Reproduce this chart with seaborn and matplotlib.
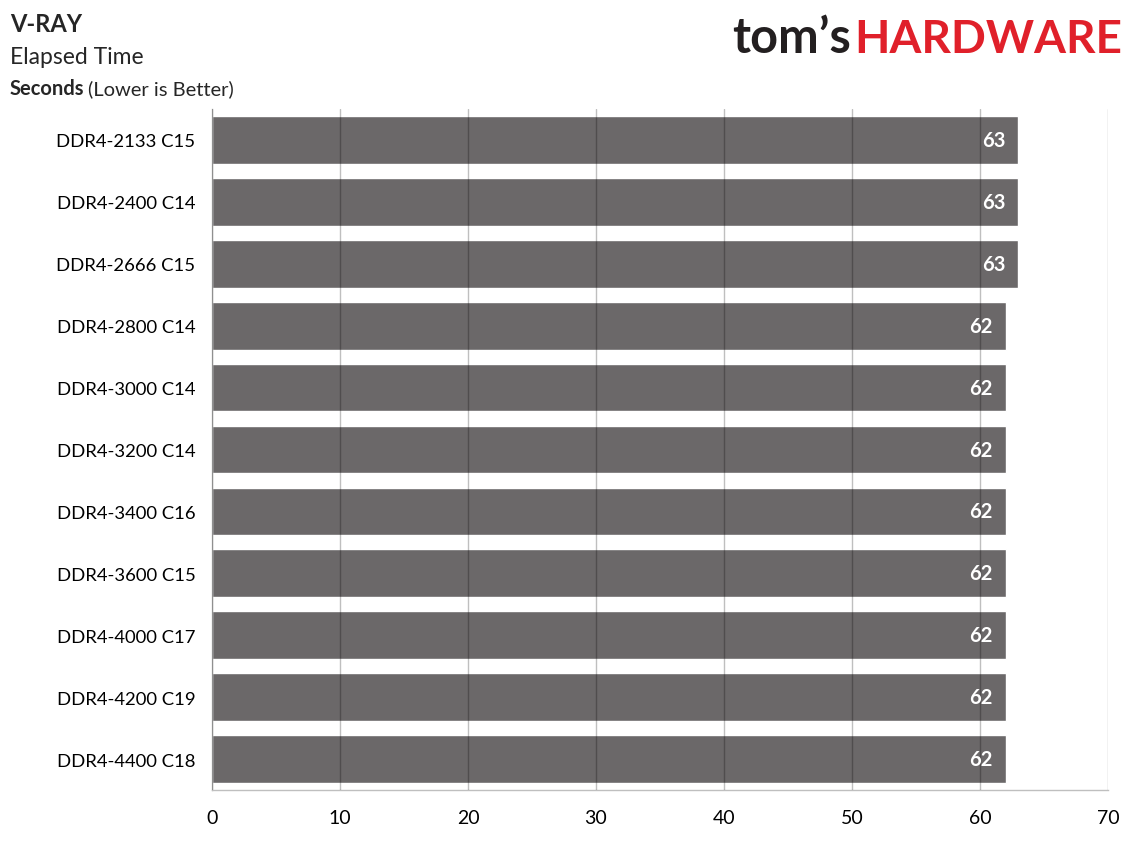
import matplotlib
matplotlib.use('Agg')
import matplotlib.pyplot as plt
import seaborn as sns
import pandas as pd
from matplotlib.ticker import MultipleLocator, FixedLocator

modules = ['DDR4-2133 C15', 'DDR4-2400 C14', 'DDR4-2666 C15', 'DDR4-2800 C14',
           'DDR4-3000 C14', 'DDR4-3200 C14', 'DDR4-3400 C16', 'DDR4-3600 C15',
           'DDR4-4000 C17', 'DDR4-4200 C19', 'DDR4-4400 C18']
seconds = [63, 63, 63, 62, 62, 62, 62, 62, 62, 62, 62]

df = pd.DataFrame({'Module': modules, 'Seconds': seconds})

sns.set_style('white')
plt.rcParams['font.family'] = ['Lato', 'DejaVu Sans']

fig = plt.figure(figsize=(11.38, 8.45), dpi=100)
ax = fig.add_axes([0.1863, 0.0639, 0.7873, 0.8059])

sns.barplot(data=df, x='Seconds', y='Module', orient='h', color='#6b6869',
            saturation=1, width=0.77, ax=ax)

ax.set_xlim(0, 70)
ax.set_ylim(len(modules) - 0.5, -0.5)
ax.xaxis.set_major_locator(MultipleLocator(10))
ax.xaxis.set_minor_locator(MultipleLocator(2))
ax.grid(axis='x', which='major', color='black', alpha=0.25, linewidth=1)
ax.set_axisbelow(False)
ax.set_xlabel('')
ax.set_ylabel('')

for s in ['top', 'right']:
    ax.spines[s].set_visible(False)
for s in ['left', 'bottom']:
    ax.spines[s].set_color('#bfbfbf')
    ax.spines[s].set_linewidth(1)

ax.tick_params(axis='x', which='major', length=0, labelsize=14, pad=14, labelcolor='black')
ax.tick_params(axis='x', which='minor', direction='in', length=6, color='#bfbfbf', width=1)
ax.tick_params(axis='y', which='major', length=0, labelsize=13.3, pad=12, labelcolor='black')
ax.yaxis.set_minor_locator(FixedLocator([i - 0.5 for i in range(len(modules) + 1)]))
ax.tick_params(axis='y', which='minor', direction='out', length=7, color='#bfbfbf', width=1)

for i, v in enumerate(seconds):
    ax.text(v - 1.0, i, f'{v}', ha='right', va='center', color='white',
            fontsize=14.5, fontweight='bold')

fig.text(10 / 1138, 1 - 25 / 845, 'V-RAY', fontsize=17, fontweight='bold', va='center')
fig.text(10 / 1138, 1 - 57 / 845, 'Elapsed Time', fontsize=16.5, va='center')
t = fig.text(10 / 1138, 1 - 89 / 845, 'Seconds', fontsize=14.5, fontweight='bold', va='center')
fig.canvas.draw()
bb = t.get_window_extent()
fig.text((bb.x1 + 4) / 1138, 1 - 89 / 845, '(Lower is Better)', fontsize=14.5, va='center')

fig.text(851 / 1138, 1 - 53 / 845, 'tom\u2019s', fontsize=35, fontweight='bold',
         color='#231f20', ha='right', va='baseline')
fig.text(1122 / 1138, 1 - 53 / 845, 'HARDWARE', fontsize=33, fontweight='bold',
         color='#e0202a', ha='right', va='baseline')

fig.savefig('out.png', dpi=100)
